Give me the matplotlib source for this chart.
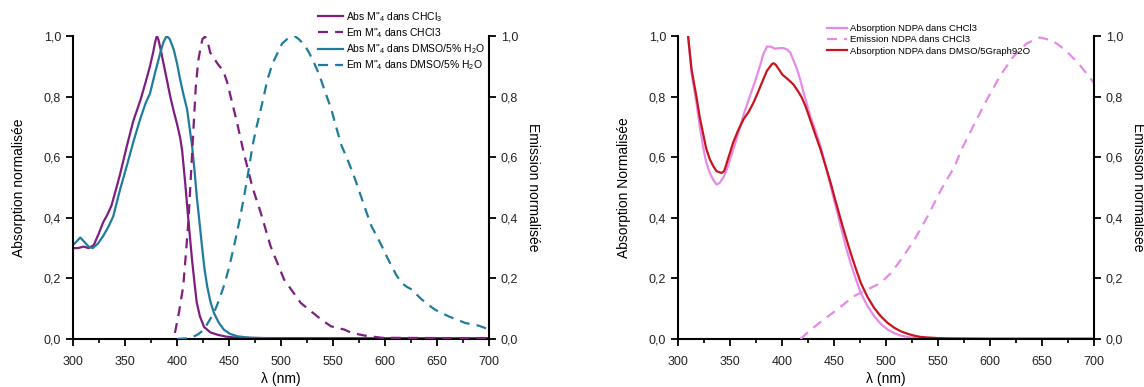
import matplotlib
matplotlib.use("Agg")
import matplotlib.pyplot as plt
from matplotlib.ticker import MultipleLocator, FuncFormatter

plt.rcParams['font.family'] = ['Liberation Sans', 'DejaVu Sans']
plt.rcParams['mathtext.fontset'] = 'custom'
plt.rcParams['mathtext.rm'] = 'Liberation Sans'
plt.rcParams['mathtext.it'] = 'Liberation Sans:italic'

# ---------------- Left panel data ----------------
abs_chcl3_x = [300, 305, 310, 315, 320, 325, 329, 333, 337, 341, 345, 352, 358, 365, 370, 374, 377,
               379, 380.6, 382, 384, 387, 390, 393.5, 397, 400, 403, 405, 408, 411, 414.5, 417,
               419, 422, 426, 432, 439, 447, 455, 480, 550, 700]
abs_chcl3_y = [0.30, 0.30, 0.305, 0.30, 0.31, 0.35, 0.385, 0.41, 0.44, 0.49, 0.54, 0.64, 0.72,
               0.79, 0.85, 0.90, 0.945, 0.98, 1.0, 0.99, 0.96, 0.91, 0.86, 0.80, 0.75, 0.71,
               0.665, 0.62, 0.51, 0.39, 0.26, 0.18, 0.12, 0.075, 0.04, 0.022, 0.014, 0.008,
               0.005, 0.003, 0.003, 0.003]

abs_dmso_x = [300, 303, 307, 311, 315, 319, 324, 329, 334, 338.7, 345, 351.6, 358, 364.5, 370, 374,
              379, 384, 387, 390, 393, 396.8, 400, 403, 406, 409.7, 412, 414.5, 417, 419, 421.5,
              424, 426.5, 429, 432, 435.5, 440, 445, 451, 458, 470, 500, 700]
abs_dmso_y = [0.31, 0.32, 0.335, 0.32, 0.305, 0.30, 0.315, 0.34, 0.37, 0.405, 0.49, 0.57, 0.65, 0.725,
              0.78, 0.81, 0.88, 0.945, 0.98, 1.0, 0.99, 0.956, 0.91, 0.857, 0.81, 0.758, 0.70,
              0.637, 0.55, 0.47, 0.39, 0.306, 0.23, 0.174, 0.125, 0.086, 0.055, 0.031, 0.017,
              0.009, 0.004, 0.002, 0.002]

em_chcl3_x = [398, 402, 406, 408.5, 411, 414.5, 418, 420.5, 422.6, 424.5, 427, 429.5, 432, 435,
              438.7, 442, 445, 448, 451.6, 458, 464.5, 472.6, 480.6, 490, 503, 519, 538.7, 548,
              561, 568, 581, 597, 650, 700]
em_chcl3_y = [0.02, 0.09, 0.174, 0.28, 0.39, 0.61, 0.83, 0.92, 0.96, 0.99, 0.998, 0.98, 0.945, 0.93,
              0.91, 0.895, 0.88, 0.85, 0.80, 0.71, 0.61, 0.50, 0.416, 0.306, 0.196, 0.119, 0.064,
              0.042, 0.031, 0.02, 0.011, 0.004, 0.003, 0.003]

em_dmso_x = [400, 413, 420, 425.8, 430, 435.5, 440, 445, 450, 454.8, 460, 464.5, 468.5, 472.6, 476.5,
             480.6, 484, 487, 492, 496.8, 501, 506, 510, 513, 517, 522.6, 527, 532, 537, 542, 548.4,
             553, 558, 563, 567.7, 572, 577, 582, 587, 592, 597, 602, 606.5, 611, 616, 621, 626,
             630, 635.5, 642, 648, 655, 661, 670, 677, 684, 690, 695, 700]
em_dmso_y = [0.0, 0.003, 0.015, 0.03, 0.055, 0.086, 0.125, 0.174, 0.235, 0.306, 0.39, 0.47, 0.55,
             0.637, 0.70, 0.758, 0.81, 0.857, 0.91, 0.945, 0.975, 0.99, 0.998, 1.0, 0.99, 0.97,
             0.945, 0.91, 0.87, 0.82, 0.758, 0.70, 0.64, 0.60, 0.56, 0.52, 0.47, 0.42, 0.372, 0.34,
             0.306, 0.27, 0.24, 0.21, 0.185, 0.172, 0.163, 0.148, 0.13, 0.112, 0.097, 0.085, 0.075,
             0.063, 0.053, 0.048, 0.044, 0.038, 0.031]

# ---------------- Right panel data ----------------
ndpa_abs_chcl3_x = [309.7, 313, 317.7, 321, 324, 327, 330.6, 334, 337, 340, 343.5, 347, 350, 355,
                    359.7, 364, 369, 374, 379, 382, 385.5, 389, 393.5, 397.5, 401.6, 405, 408,
                    411, 414.5, 418, 421, 424, 427, 432, 437, 442, 446.8, 451.5, 456.5, 461, 466,
                    471, 475.8, 482, 488.7, 495, 501.6, 508, 514.5, 522, 530, 545, 600, 700]
ndpa_abs_chcl3_y = [1.0, 0.88, 0.78, 0.70, 0.637, 0.585, 0.548, 0.525, 0.51, 0.515, 0.532, 0.56,
                    0.593, 0.645, 0.70, 0.75, 0.80, 0.85, 0.903, 0.94, 0.965, 0.965, 0.958, 0.96,
                    0.96, 0.955, 0.945, 0.92, 0.89, 0.85, 0.81, 0.775, 0.736, 0.69, 0.637, 0.57,
                    0.504, 0.44, 0.372, 0.31, 0.25, 0.198, 0.152, 0.11, 0.075, 0.05, 0.031, 0.019,
                    0.011, 0.006, 0.003, 0.001, 0.0, 0.0]

ndpa_abs_dmso_x = [309.7, 313, 317.7, 321, 324, 327, 330.6, 334, 337, 340, 342, 344.5, 346.8, 350,
                   353, 358, 363, 368, 372.6, 377, 382, 385.5, 388.7, 390.5, 392, 394, 396, 398,
                   400.5, 403, 407, 411, 415, 419, 423, 427, 432, 437, 442, 446.8, 451.5, 456.5,
                   461, 466, 471, 475.8, 482, 488.7, 495, 501.6, 508, 514.5, 521, 527, 533, 540,
                   550, 560, 600, 700]
ndpa_abs_dmso_y = [1.0, 0.89, 0.80, 0.73, 0.68, 0.63, 0.593, 0.57, 0.554, 0.55, 0.548, 0.555,
                   0.58, 0.615, 0.648, 0.69, 0.725, 0.75, 0.78, 0.815, 0.857, 0.885, 0.90, 0.908,
                   0.91, 0.905, 0.895, 0.885, 0.872, 0.865, 0.853, 0.84, 0.82, 0.797, 0.765,
                   0.725, 0.675, 0.626, 0.57, 0.515, 0.455, 0.394, 0.34, 0.284, 0.232, 0.185,
                   0.14, 0.102, 0.075, 0.053, 0.037, 0.025, 0.017, 0.011, 0.007, 0.005, 0.003,
                   0.002, 0.001, 0.001]

ndpa_em_chcl3_x = [417.7, 427.4, 440, 453, 469, 482, 495, 504.8, 514.5, 527.4, 540, 553, 566,
                   572.6, 585, 597, 610, 622, 635, 648, 660, 672, 685, 700]
ndpa_em_chcl3_y = [0.0, 0.03, 0.064, 0.097, 0.141, 0.163, 0.185, 0.218, 0.262, 0.328, 0.405,
                   0.493, 0.57, 0.625, 0.71, 0.79, 0.87, 0.93, 0.975, 0.995, 0.985, 0.955, 0.91,
                   0.845]

# ---------------- Labels / styles ----------------
left_labels = [r'Abs M"${}_4$ dans CHCl${}_3$', r'Em M"${}_4$ dans CHCl3',
               r'Abs M"${}_4$ dans DMSO/5% H${}_2$O', r'Em M"${}_4$ dans DMSO/5% H${}_2$O']
right_labels = ['Absorption NDPA dans CHCl3', 'Emission NDPA dans CHCl3',
                'Absorption NDPA dans DMSO/5Graph92O']

c_purple = '#7E1F80'
c_teal = '#1F7C9C'
c_violet = '#E68AE8'
c_red = '#C8141E'

W, H = 1144, 387
fig = plt.figure(figsize=(W / 100, H / 100), dpi=100)

def comma(v, pos):
    return f"{v:.1f}".replace('.', ',')

def setup(ax, left_px, ylabel):
    ax.set_position([left_px / W, (H - 339) / H, 416 / W, 303 / H])
    ax.set_xlim(300, 700)
    ax.set_ylim(0, 1.0)
    ax.spines['top'].set_visible(False)
    ax.spines['right'].set_visible(False)
    for s in ('left', 'bottom'):
        ax.spines[s].set_linewidth(1.5)
    ax.xaxis.set_major_locator(MultipleLocator(50))
    ax.xaxis.set_minor_locator(MultipleLocator(25))
    ax.yaxis.set_major_locator(MultipleLocator(0.2))
    ax.yaxis.set_major_formatter(FuncFormatter(comma))
    ax.tick_params(axis='both', which='major', direction='out', length=5, width=1.3,
                   labelsize=9, colors='black', labelcolor='#222222')
    ax.tick_params(axis='x', which='minor', direction='out', length=3, width=1.2)
    ax.tick_params(axis='x', pad=7)
    ax.set_xlabel('λ (nm)', fontsize=10, labelpad=3)
    ax.set_ylabel(ylabel, fontsize=10, labelpad=13)
    axr = ax.twinx()
    axr.set_position(ax.get_position())
    axr.set_ylim(0, 1.0)
    for s in ('top', 'left', 'bottom'):
        axr.spines[s].set_visible(False)
    axr.spines['right'].set_linewidth(1.5)
    axr.yaxis.set_major_locator(MultipleLocator(0.2))
    axr.yaxis.set_major_formatter(FuncFormatter(comma))
    axr.tick_params(axis='y', direction='out', length=5, width=1.3, labelsize=9,
                    labelcolor='#222222')
    axr.set_ylabel('Emission normalisée', fontsize=10, rotation=270, labelpad=16)
    return axr

dash = (0, (4.5, 3.2))

ax1 = fig.add_axes([0, 0, 1, 1])
ax1r = setup(ax1, 73, 'Absorption normalisée')
l1, = ax1.plot(abs_chcl3_x, abs_chcl3_y, color=c_purple, lw=1.6)
l2, = ax1r.plot(em_chcl3_x, em_chcl3_y, color=c_purple, lw=1.6, ls=dash)
l3, = ax1.plot(abs_dmso_x, abs_dmso_y, color=c_teal, lw=1.6)
l4, = ax1r.plot(em_dmso_x, em_dmso_y, color=c_teal, lw=1.6, ls=dash)
fig.legend([l1, l2, l3, l4], left_labels, loc='upper left',
           bbox_to_anchor=(318 / W, 1 - 10 / H), frameon=False, fontsize=7.5,
           handlelength=2.4, handletextpad=0.3, labelspacing=0.22, borderpad=0,
           borderaxespad=0)

ax2 = fig.add_axes([0.5, 0, 0.4, 1])
ax2r = setup(ax2, 678, 'Absorption Normalisée')
r1, = ax2.plot(ndpa_abs_chcl3_x, ndpa_abs_chcl3_y, color=c_violet, lw=1.6)
r2, = ax2r.plot(ndpa_em_chcl3_x, ndpa_em_chcl3_y, color=c_violet, lw=1.6, ls=dash)
r3, = ax2.plot(ndpa_abs_dmso_x, ndpa_abs_dmso_y, color=c_red, lw=1.6)
fig.legend([r1, r2, r3], right_labels, loc='upper left',
           bbox_to_anchor=(827 / W, 1 - 24 / H), frameon=False, fontsize=6.8,
           handlelength=2.1, handletextpad=0.35, labelspacing=0.25, borderpad=0,
           borderaxespad=0)

fig.savefig('out.png', dpi=100)
